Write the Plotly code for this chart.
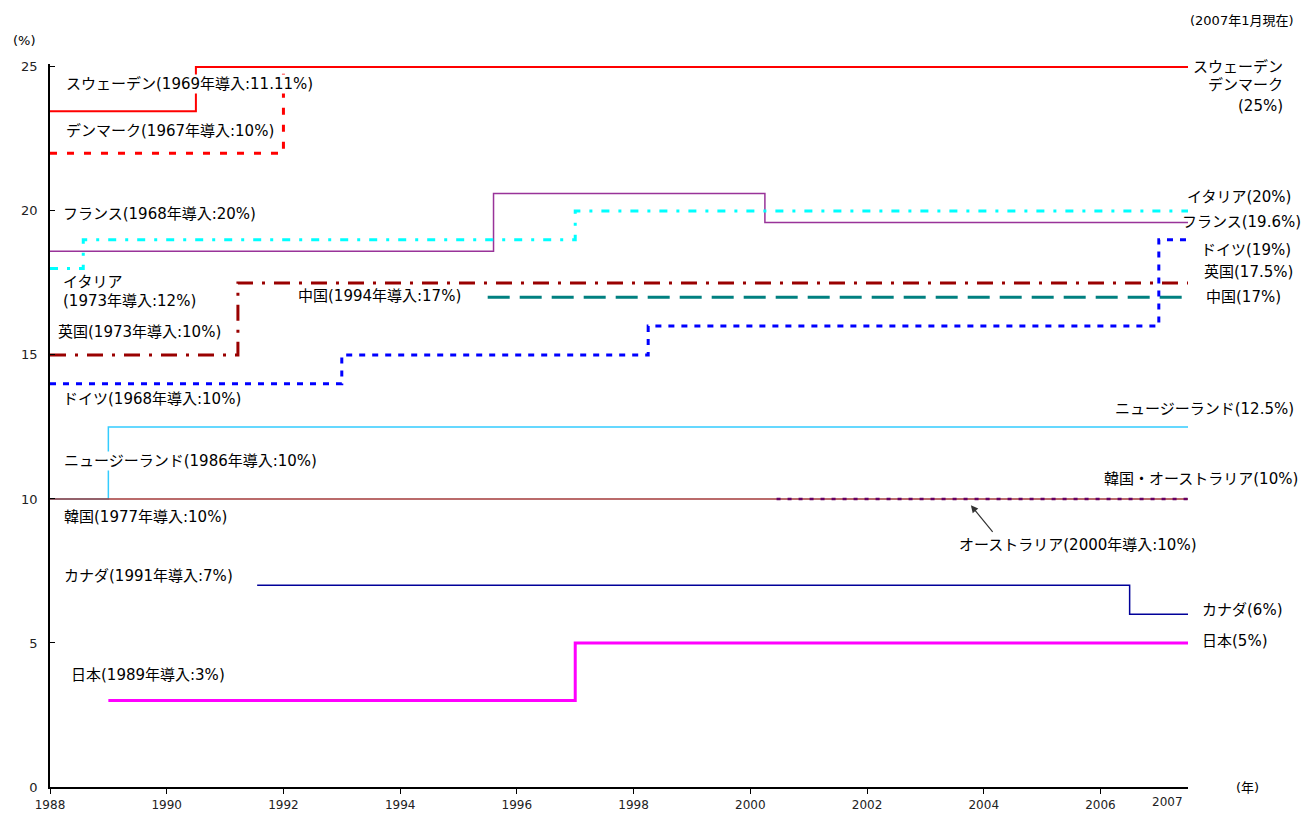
import plotly.graph_objects as go

# VAT standard-rate history (step series: rate holds from each x until the next)
X_END = 2007.5

sweden_x = [1988, 1990.5, X_END]
sweden_y = [23.46, 25, 25]

# from 1992 Denmark's 25% coincides with Sweden's line, so only the step is drawn
denmark_x = [1988, 1992.0, 1992.0]
denmark_y = [22, 22, 25]

france_x = [1988, 1995.6, 2000.25, X_END]
france_y = [18.6, 20.6, 19.6, 19.6]

italy_x = [1988, 1988.57, 1997.0, X_END]
italy_y = [18, 19, 20, 20]

uk_x = [1988, 1991.22, X_END]
uk_y = [15, 17.5, 17.5]

china_x = [1995.5, X_END]
china_y = [17, 17]

germany_x = [1988, 1993.0, 1998.25, 2007.0, X_END]
germany_y = [14, 15, 16, 19, 19]

nz_x = [1988, 1989.0, X_END]
nz_y = [10, 12.5, 12.5]

korea_x = [1988, X_END]
korea_y = [10, 10]

australia_x = [2000.45, X_END]
australia_y = [10, 10]

canada_x = [1991.55, 2006.5, X_END]
canada_y = [7, 6, 6]

japan_x = [1989.0, 1997.0, X_END]
japan_y = [3, 5, 5]

x_ticks = [1988, 1990, 1992, 1994, 1996, 1998, 2000, 2002, 2004, 2006]
y_ticks = [0, 5, 10, 15, 20, 25]

FONT = "DejaVu Sans, Noto Sans CJK JP"
FS = 15

series = [
    # name, x, y, colour, width, dash
    ("デンマーク", denmark_x, denmark_y, "#FF0000", 3, "7px,10px"),
    ("スウェーデン", sweden_x, sweden_y, "#FF0000", 2, "solid"),
    ("フランス", france_x, france_y, "#993399", 1.5, "solid"),
    ("イタリア", italy_x, italy_y, "#00FFFF", 3, "8px,9px,3px,9px"),
    ("英国", uk_x, uk_y, "#990000", 3, "16px,9px,3px,9px"),
    ("中国", china_x, china_y, "#008080", 3, "22px,10px"),
    ("ドイツ", germany_x, germany_y, "#0000FF", 3, "6px,7px"),
    ("ニュージーランド", nz_x, nz_y, "#33CCFF", 1.5, "solid"),
    ("韓国", korea_x, korea_y, "#A33A3A", 1.5, "solid"),
    ("オーストラリア", australia_x, australia_y, "#660066", 2.5, "4px,7px"),
    ("カナダ", canada_x, canada_y, "#000099", 1.5, "solid"),
    ("日本", japan_x, japan_y, "#FF00FF", 3, "solid"),
]

fig = go.Figure()
for name, xs, ys, col, w, dash in series:
    fig.add_trace(go.Scatter(
        x=xs, y=ys, name=name, mode="lines", line_shape="hv",
        line=dict(color=col, width=w, dash=dash), hoverinfo="skip",
    ))

# labels inside the plot (left side), white box hides lines behind text
left_labels = [
    ("スウェーデン(1969年導入:11.11%)", 1988.26, 24.41, True),
    ("デンマーク(1967年導入:10%)", 1988.26, 22.78, False),
    ("フランス(1968年導入:20%)", 1988.21, 19.91, False),
    ("イタリア", 1988.21, 17.52, False),
    ("(1973年導入:12%)", 1988.21, 16.86, False),
    ("英国(1973年導入:10%)", 1988.12, 15.79, False),
    ("中国(1994年導入:17%)", 1992.23, 17.04, False),
    ("ドイツ(1968年導入:10%)", 1988.21, 13.47, False),
    ("ニュージーランド(1986年導入:10%)", 1988.22, 11.32, True),
    ("韓国(1977年導入:10%)", 1988.22, 9.38, False),
    ("カナダ(1991年導入:7%)", 1988.22, 7.31, False),
    ("日本(1989年導入:3%)", 1988.34, 3.88, False),
]
for txt, x, y, boxed in left_labels:
    fig.add_annotation(
        text=txt, x=x, y=y, xref="x", yref="y", xanchor="left", yanchor="middle",
        showarrow=False, font=dict(family=FONT, size=FS, color="black"),
        bgcolor="white" if boxed else None, borderpad=0,
    )

# end-of-line labels to the right of the plot
right_labels = [
    ("スウェーデン", 1.0852, 25.0, "right"),
    ("デンマーク", 1.0852, 24.37, "right"),
    ("(25%)", 1.0852, 23.64, "right"),
    ("イタリア(20%)", 1.0923, 20.5, "right"),
    ("フランス(19.6%)", 1.1010, 19.6, "right"),
    ("ドイツ(19%)", 1.0097, 18.65, "left"),
    ("英国(17.5%)", 1.0123, 17.87, "left"),
    ("中国(17%)", 1.0141, 17.0, "left"),
    ("ニュージーランド(12.5%)", 1.0949, 13.12, "right"),
    ("韓国・オーストラリア(10%)", 1.0984, 10.7, "right"),
    ("カナダ(6%)", 1.0105, 6.13, "left"),
    ("日本(5%)", 1.0105, 5.06, "left"),
]
for txt, x, y, anchor in right_labels:
    fig.add_annotation(
        text=txt, x=x, y=y, xref="paper", yref="y", xanchor=anchor, yanchor="middle",
        showarrow=False, font=dict(family=FONT, size=FS, color="black"),
    )

# Australia callout with arrow
fig.add_annotation(
    text="オーストラリア(2000年導入:10%)", x=2005.61, y=8.41, xref="x", yref="y",
    xanchor="center", yanchor="middle", showarrow=False,
    font=dict(family=FONT, size=FS, color="black"),
)
fig.add_annotation(
    text="", x=2003.78, y=9.78, xref="x", yref="y", showarrow=True,
    ax=23, ay=28, arrowhead=2, arrowsize=1.2, arrowwidth=1.2, arrowcolor="#333333",
)

# units and notes
fig.add_annotation(text="(%)", x=-0.022, y=1.033, xref="paper", yref="paper",
                   xanchor="center", yanchor="middle", showarrow=False,
                   font=dict(family=FONT, size=13, color="black"))
fig.add_annotation(text="(2007年1月現在)", x=1.0949, y=1.06, xref="paper", yref="paper",
                   xanchor="right", yanchor="middle", showarrow=False,
                   font=dict(family=FONT, size=13, color="black"))
fig.add_annotation(text="(年)", x=1.0527, y=0, xref="paper", yref="paper",
                   xanchor="center", yanchor="middle", showarrow=False,
                   font=dict(family=FONT, size=13, color="black"))
fig.add_annotation(text="2007", x=2007.15, y=-0.021, xref="x", yref="paper",
                   xanchor="center", yanchor="middle", showarrow=False,
                   font=dict(family=FONT, size=12, color="#222222"))

fig.update_layout(
    width=1306, height=817,
    margin=dict(l=50, r=118, t=64, b=30),
    paper_bgcolor="white", plot_bgcolor="white",
    showlegend=False,
    font=dict(family=FONT, size=12, color="#222222"),
)
fig.update_xaxes(
    range=[1988, X_END], tickvals=x_ticks, ticktext=[str(v) for v in x_ticks],
    showgrid=False, zeroline=False, showline=True, linecolor="black", linewidth=1.5,
    ticks="outside", ticklen=5, tickcolor="black", tickwidth=1,
    ticklabelstandoff=1, automargin=False,
    tickfont=dict(family=FONT, size=12, color="#222222"),
)
fig.update_yaxes(
    range=[0, 25.1], tickvals=y_ticks, showgrid=False, zeroline=False,
    showline=True, linecolor="black", linewidth=1.5,
    ticks="inside", ticklen=5, tickcolor="black", tickwidth=1,
    ticklabelstandoff=8, automargin=False,
    tickfont=dict(family=FONT, size=13, color="#222222"),
)

fig.write_html("out.html")
